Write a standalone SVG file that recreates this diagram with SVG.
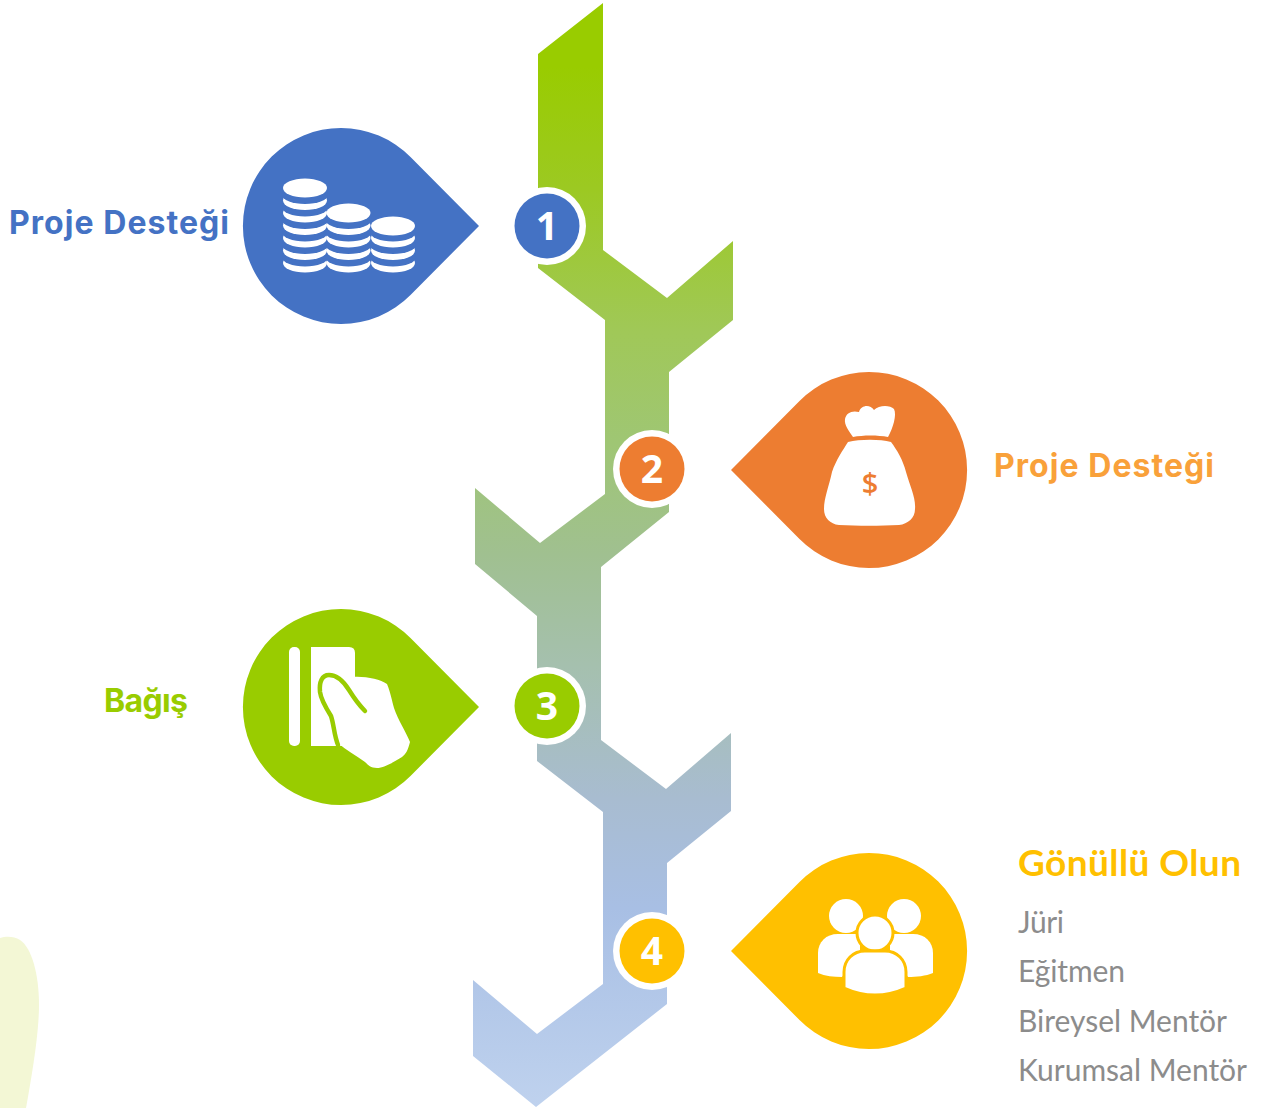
<svg xmlns="http://www.w3.org/2000/svg" width="1262" height="1108" viewBox="0 0 1262 1108">
<style>
.lbl{font-family:"Inter","Liberation Sans",sans-serif;font-weight:700;font-size:32px}
.num{font-family:"Open Sans","Liberation Sans",sans-serif;font-weight:700;font-size:39px;fill:#fff;text-anchor:middle}
.head{font-family:"Lato","Liberation Sans",sans-serif;font-weight:700;font-size:37px;fill:#ffc000}
.item{font-family:"Lato","Liberation Sans",sans-serif;font-size:30px;fill:#8c8c8c}
.w{fill:#fff}
.ring{fill:#fff}
</style>
<defs>
<linearGradient id="rib" gradientUnits="userSpaceOnUse" x1="0" y1="0" x2="0" y2="1108">
<stop offset="0" stop-color="#99cc00"/>
<stop offset=".06" stop-color="#99cc00"/>
<stop offset=".17" stop-color="#9cc922"/>
<stop offset=".3" stop-color="#a0c858"/>
<stop offset=".4" stop-color="#9fc674"/>
<stop offset=".5" stop-color="#a0c090"/>
<stop offset=".6" stop-color="#a5c0ae"/>
<stop offset=".72" stop-color="#a8bcd0"/>
<stop offset=".82" stop-color="#a8bfe4"/>
<stop offset="1" stop-color="#bfd2ee"/>
</linearGradient>
<ellipse id="coinW" rx="22" ry="9.5" fill="#fff"/>
<ellipse id="coinB" rx="23" ry="9.5" fill="#4472c4"/>
</defs>
<rect width="1262" height="1108" fill="#fff"/>
<path id="blob" d="M0 938C6 936 14 936 20 940C32 948 39 975 39 1005C39 1035 31 1080 26 1108H0Z" fill="#f3f7d5"/>
<g id="connectors">
<path id="ribbon" fill="url(#rib)" d="M603 3V250L667 298L733 241V320L669 372V512L601 567V740L666 789L731 733V811L667 863V1004L536 1107L473 1056V980L537 1034L603 984V812L537 761V616L475 564V488L540 543L605 494V320L538 268V54Z"/>
</g>
<g id="node-1">
<path d="M479 226L410.500 157A98 98 0 1 0 410.500 295Z" fill="#4472c4"/>
<g id="coins">
<g transform="translate(305 0)">
<use href="#coinW" y="263"/><use href="#coinB" y="257"/><use href="#coinW" y="250.500"/><use href="#coinB" y="244.500"/><use href="#coinW" y="238"/><use href="#coinB" y="232"/><use href="#coinW" y="225.500"/><use href="#coinB" y="219.500"/><use href="#coinW" y="213"/><use href="#coinB" y="207"/><use href="#coinW" y="200.500"/><use href="#coinB" y="194.500"/><use href="#coinW" y="188"/>
</g>
<g transform="translate(348.500 0)">
<use href="#coinW" y="263"/><use href="#coinB" y="257"/><use href="#coinW" y="250.500"/><use href="#coinB" y="244.500"/><use href="#coinW" y="238"/><use href="#coinB" y="232"/><use href="#coinW" y="225.500"/><use href="#coinB" y="219.500"/><use href="#coinW" y="213"/>
</g>
<g transform="translate(393 0)">
<use href="#coinW" y="263"/><use href="#coinB" y="257"/><use href="#coinW" y="250.500"/><use href="#coinB" y="244.500"/><use href="#coinW" y="238"/><use href="#coinB" y="232"/><use href="#coinW" y="226"/>
</g>
</g>
<circle class="ring" cx="547" cy="226" r="39"/>
<circle cx="547" cy="226" r="32.500" fill="#4472c4"/>
<text class="num" x="547" y="240">1</text>
<text class="lbl" x="9" y="234" fill="#4472c4" textLength="220">Proje Desteği</text>
</g>
<g id="node-2">
<path d="M731 470L799.500 401A98 98 0 1 1 799.500 539Z" fill="#ed7d31"/>
<path class="w" d="M853 437C849 431 844 425 845 419C846 413 852 410 859 412C861 405 870 404 874 410C879 405 890 405 894 409C897 415 893 428 888 437C878 435 863 435 853 437Z"/>
<path class="w" d="M848 442C860 439 880 439 891 442C897 450 903 460 906 472C910 486 916 498 915 509C915 518 908 524 899 525C880 526 858 526 839 525C830 524 824 518 824 509C824 498 829 486 832 472C836 460 843 450 848 442Z"/>
<text x="870" y="494" font-family="Open Sans,Liberation Sans,sans-serif" font-weight="600" font-size="29" fill="#ed7d31" text-anchor="middle">$</text>
<circle class="ring" cx="652" cy="469" r="39"/>
<circle cx="652" cy="469" r="32.500" fill="#ed7d31"/>
<text class="num" x="652" y="483">2</text>
<text class="lbl" x="994" y="477" fill="#f9a13a" textLength="220">Proje Desteği</text>
</g>
<g id="node-3">
<path d="M479 707L410.500 638A98 98 0 1 0 410.500 776Z" fill="#99cc00"/>
<rect class="w" x="289" y="647" width="11" height="99" rx="5"/>
<path class="w" d="M311 647H349Q355 647 355 653V746H311Z"/>
<path class="w" d="M352 677C365 676 380 679 387 684C391 694 392 701 394 708C398 720 406 732 410 742C408 750 406 754 402 757C394 762 384 768 377 768C371 768 368 765 365 762C355 755 346 750 338 743C335 735 334 725 331 716C326 708 321 700 320 692C319 682 322 675 329 675C337 675 344 682 349 690Z"/>
<path fill="none" stroke="#99cc00" stroke-width="4.500" stroke-linecap="round" d="M365 711C360 706 354 698 349 690C344 682 337 675 329 675C322 675 319 682 320 692C321 700 326 708 331 716C334 725 334 735 338 745"/>
<circle class="ring" cx="547" cy="706" r="39"/>
<circle cx="547" cy="706" r="32.500" fill="#99cc00"/>
<text class="num" x="547" y="720">3</text>
<text class="lbl" x="104" y="712" fill="#99cc00" textLength="84">Bağış</text>
</g>
<g id="node-4">
<path d="M731 951L799.500 882A98 98 0 1 1 799.500 1020Z" fill="#ffc000"/>
<circle class="w" cx="846" cy="916" r="17"/>
<circle class="w" cx="904" cy="916" r="17"/>
<path class="w" d="M818 973V953C818 942 826 934 838 934H860V950L842 977C834 977 825 976 818 973Z"/>
<path class="w" d="M933 973V953C933 942 925 934 913 934H890V950L908 977C916 977 926 976 933 973Z"/>
<circle class="w" cx="875" cy="933" r="18" stroke="#ffc000" stroke-width="3"/>
<path class="w" stroke="#ffc000" stroke-width="3" d="M844 988V972C844 960 853 951 865 951H885C897 951 906 960 906 972V988C886 997 864 997 844 988Z"/>
<circle class="ring" cx="652" cy="951" r="39"/>
<circle cx="652" cy="951" r="32.500" fill="#ffc000"/>
<text class="num" x="652" y="965">4</text>
<text class="head" x="1018" y="876" textLength="223">Gönüllü Olun</text>
<text class="item" x="1018" y="933" textLength="46">Jüri</text>
<text class="item" x="1018" y="982" textLength="107">Eğitmen</text>
<text class="item" x="1018" y="1032" textLength="209">Bireysel Mentör</text>
<text class="item" x="1018" y="1081" textLength="229">Kurumsal Mentör</text>
</g>
</svg>
